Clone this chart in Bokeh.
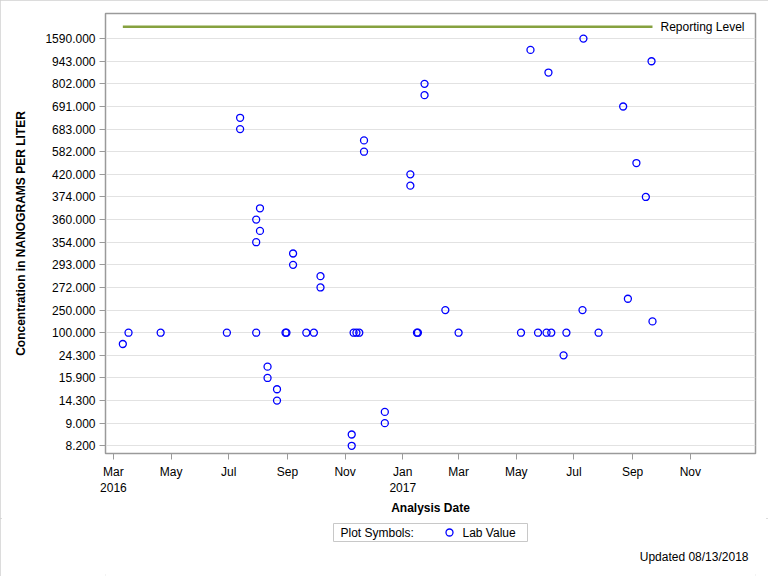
from datetime import datetime
from bokeh.plotting import figure
from bokeh.layouts import column
from bokeh.models import Range1d, FixedTicker, Label, ColumnDataSource
from bokeh.core.properties import value
from bokeh.embed import file_html
from bokeh.resources import INLINE

# ---------------- data ----------------
# ordinal concentration axis (ng/L): labelled levels, bottom to top
y_tick_labels = ["8.200", "9.000", "14.300", "15.900", "24.300", "100.000",
                 "250.000", "272.000", "293.000", "354.000", "360.000",
                 "374.000", "420.000", "582.000", "683.000", "691.000",
                 "802.000", "943.000", "1590.000"]

# analysis dates of each lab value
sample_dates = [
    "2016-03-11", "2016-03-17", "2016-04-20", "2016-06-29", "2016-07-13",
    "2016-07-13", "2016-07-30", "2016-07-30", "2016-07-30", "2016-08-03",
    "2016-08-03", "2016-08-11", "2016-08-11", "2016-08-21", "2016-08-21",
    "2016-08-30", "2016-08-31", "2016-09-07", "2016-09-07", "2016-09-21",
    "2016-09-29", "2016-10-06", "2016-10-06", "2016-11-08", "2016-11-08",
    "2016-11-10", "2016-11-13", "2016-11-16", "2016-11-21", "2016-11-21",
    "2016-12-13", "2016-12-13", "2017-01-09", "2017-01-09", "2017-01-16",
    "2017-01-17", "2017-01-24", "2017-01-24", "2017-02-15", "2017-03-01",
    "2017-05-06", "2017-05-16", "2017-05-24", "2017-06-02", "2017-06-04",
    "2017-06-07", "2017-06-20", "2017-06-23", "2017-07-10", "2017-07-11",
    "2017-07-27", "2017-08-22", "2017-08-27", "2017-09-05", "2017-09-15",
    "2017-09-21", "2017-09-22",
]
# position of each lab value on the ordinal axis (index of label; .5 = between labels)
conc_rank = [
    4.5, 5, 5, 5, 14.5,
    14, 10, 9, 5, 10.5,
    9.5, 3.5, 3, 2.5, 2,
    5, 5, 8.5, 8, 5,
    5, 7.5, 7, 0.5, 0,
    5, 5, 5, 13.5, 13,
    1.5, 1, 12, 11.5, 5,
    5, 16, 15.5, 6, 5,
    5, 17.5, 5, 5, 16.5,
    5, 4, 5, 6, 18,
    5, 15, 6.5, 12.5, 11,
    17, 5.5,
]
reporting_level_rank = 18.52

x_tick_dates = ["2016-03-01", "2016-05-01", "2016-07-01", "2016-09-01",
                "2016-11-01", "2017-01-01", "2017-03-01", "2017-05-01",
                "2017-07-01", "2017-09-01", "2017-11-01"]
x_tick_labels = ["Mar\n2016", "May", "Jul", "Sep", "Nov", "Jan\n2017",
                 "Mar", "May", "Jul", "Sep", "Nov"]

# ---------------- helpers ----------------
def to_dt(s):
    return datetime.strptime(s, "%Y-%m-%d")

def to_ms(d):
    return (d - datetime(1970, 1, 1)).total_seconds() * 1000.0

dates = [to_dt(s) for s in sample_dates]
src = ColumnDataSource(dict(x=dates, y=conc_rank))

FONT = "Liberation Sans"
AXIS_COLOR = "#9a9a9a"
MARKER_COLOR = "#0000ff"
MAIN_H = 518
FRAME_L, FRAME_R = 105, 755

# ---------------- main plot ----------------
p = figure(width=768, height=MAIN_H, output_backend="svg", toolbar_location=None,
           x_axis_type="datetime",
           x_range=Range1d(datetime(2016, 2, 21, 16), datetime(2018, 1, 8, 22)),
           y_range=Range1d(-0.34, 19.11),
           min_border_left=FRAME_L, min_border_right=768 - FRAME_R,
           min_border_top=13, min_border_bottom=10)

# reporting level line
xmin, xmax = min(dates), max(dates)
p.line(x=[xmin, xmax], y=[reporting_level_rank, reporting_level_rank],
       line_color="#86a13f", line_width=2.5)
p.add_layout(Label(x=xmax, y=reporting_level_rank, text="Reporting Level",
                   x_offset=8, text_baseline="middle", text_font=FONT,
                   text_font_size="12px", text_color="#000000"))

p.scatter("x", "y", source=src, marker="circle", size=7,
          fill_color=None, line_color=MARKER_COLOR, line_width=1.3)

# axes
tick_ms = [to_ms(to_dt(s)) for s in x_tick_dates]
p.xaxis.ticker = FixedTicker(ticks=tick_ms)
p.xaxis.major_label_overrides = {t: l for t, l in zip(tick_ms, x_tick_labels)}
p.yaxis.ticker = FixedTicker(ticks=list(range(len(y_tick_labels))))
p.yaxis.major_label_overrides = {i: l for i, l in enumerate(y_tick_labels)}

for ax in (p.xaxis[0], p.yaxis[0]):
    ax.axis_line_color = AXIS_COLOR
    ax.major_tick_line_color = AXIS_COLOR
    ax.major_tick_out = 6
    ax.major_tick_in = 0
    ax.minor_tick_line_color = None
    ax.major_label_text_font = FONT
    ax.major_label_text_font_size = "12px"
    ax.major_label_text_color = "#000000"
    ax.axis_label_text_font = FONT
    ax.axis_label_text_font_size = "12px"
    ax.axis_label_text_font_style = "bold"
    ax.axis_label_text_color = "#000000"

p.xaxis.axis_label = "Analysis Date"
p.xaxis.major_label_standoff = 5
p.xaxis.axis_label_standoff = 3
p.yaxis.axis_label = "Concentration in NANOGRAMS PER LITER"
p.yaxis.major_label_standoff = 4
p.yaxis.axis_label_standoff = 14

p.xgrid.grid_line_color = None
p.ygrid.grid_line_color = "#e2e2e2"
p.outline_line_color = AXIS_COLOR
p.outline_line_width = 1.5

# ---------------- footer strip: legend + update note ----------------
# the column aligns this strip's frame with the main frame, so its x range
# is the main frame's pixel span; y is measured upward from the strip bottom
FOOT_H = 576 - MAIN_H
q = figure(width=768, height=FOOT_H, output_backend="svg", toolbar_location=None,
           x_range=Range1d(FRAME_L, FRAME_R), y_range=Range1d(0, FOOT_H),
           min_border_left=FRAME_L, min_border_right=768 - FRAME_R,
           min_border_top=0, min_border_bottom=0, outline_line_color=None)
q.axis.visible = False
q.grid.visible = False

q.quad(left=[333], right=[527], bottom=[FOOT_H - 23], top=[FOOT_H - 5],
       fill_color="#ffffff", line_color="#c8c8c8", line_width=1)
q.text(x=[340], y=[FOOT_H - 14], text=["Plot Symbols:"],
       text_font=value(FONT), text_font_size="12px", text_baseline="middle",
       text_color="#000000")
q.scatter(x=[449], y=[FOOT_H - 14], marker="circle", size=7,
          fill_color=None, line_color=MARKER_COLOR, line_width=1.3)
q.text(x=[462], y=[FOOT_H - 14], text=["Lab Value"],
       text_font=value(FONT), text_font_size="12px", text_baseline="middle",
       text_color="#000000")
q.text(x=[748], y=[FOOT_H - 38], text=["Updated 08/13/2018"],
       text_font=value(FONT), text_font_size="12px", text_baseline="middle",
       text_align="right", text_color="#000000")

layout = column(p, q, spacing=0)
layout.styles = {"outline": "2px solid #d0d0d0", "outline-offset": "-2px"}

open("out.html", "w").write(file_html(layout, INLINE))
